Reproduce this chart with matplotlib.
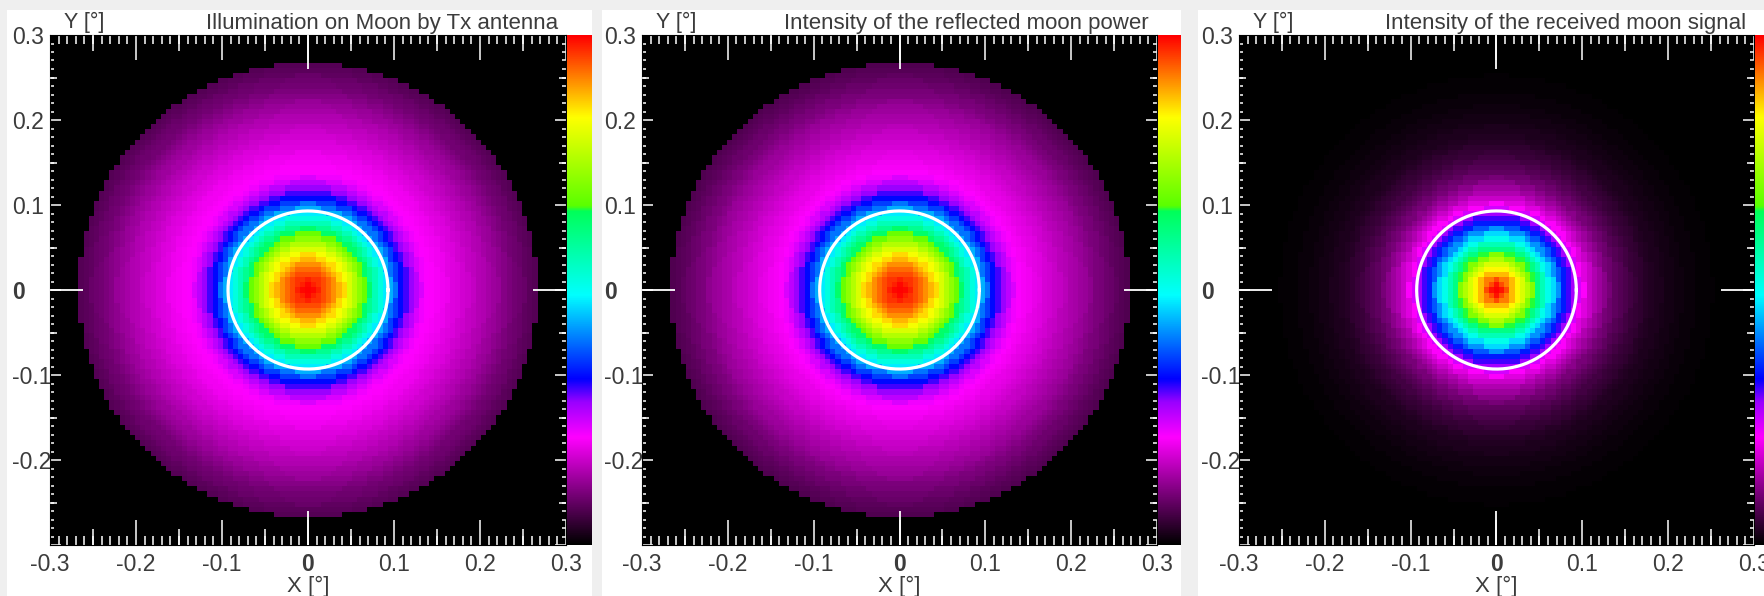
import numpy as np
import matplotlib
matplotlib.use("Agg")
import matplotlib.pyplot as plt
from matplotlib.colors import LinearSegmentedColormap
from matplotlib.patches import Rectangle

plt.rcParams['font.family'] = ['Liberation Sans', 'DejaVu Sans']
plt.rcParams['axes.unicode_minus'] = False

# radial intensity profiles (normalised), sampled every 0.005 deg from the beam centre
radius_deg = [0.000, 0.005, 0.010, 0.015, 0.020, 0.025, 0.030, 0.035, 0.040, 0.045,
              0.050, 0.055, 0.060, 0.065, 0.070, 0.075, 0.080, 0.085, 0.090, 0.095,
              0.100, 0.105, 0.110, 0.115, 0.120, 0.125, 0.130, 0.135, 0.140, 0.145,
              0.150, 0.155, 0.160, 0.165, 0.170, 0.175, 0.180, 0.185, 0.190, 0.195,
              0.200, 0.205, 0.210, 0.215, 0.220, 0.225, 0.230, 0.235, 0.240, 0.245,
              0.250, 0.255, 0.260, 0.265]
tx_illumination = [1.000, 0.995, 0.980, 0.965, 0.950, 0.930, 0.910, 0.885, 0.860, 0.830,
                   0.800, 0.760, 0.720, 0.680, 0.640, 0.600, 0.560, 0.520, 0.480, 0.440,
                   0.400, 0.365, 0.330, 0.305, 0.280, 0.255, 0.235, 0.222, 0.213, 0.208,
                   0.205, 0.200, 0.196, 0.191, 0.186, 0.181, 0.175, 0.169, 0.163, 0.157,
                   0.151, 0.145, 0.139, 0.132, 0.125, 0.118, 0.111, 0.104, 0.097, 0.091,
                   0.086, 0.081, 0.076, 0.072]
reflected_power = [1.000, 0.995, 0.980, 0.965, 0.950, 0.930, 0.910, 0.885, 0.860, 0.830,
                   0.800, 0.760, 0.720, 0.680, 0.640, 0.600, 0.560, 0.520, 0.480, 0.440,
                   0.400, 0.365, 0.330, 0.305, 0.280, 0.255, 0.235, 0.222, 0.212, 0.205,
                   0.200, 0.195, 0.190, 0.185, 0.179, 0.173, 0.167, 0.161, 0.155, 0.149,
                   0.143, 0.137, 0.131, 0.125, 0.118, 0.111, 0.104, 0.098, 0.092, 0.086,
                   0.081, 0.076, 0.071, 0.067]
received_signal = [1.000, 0.985, 0.950, 0.920, 0.880, 0.840, 0.800, 0.755, 0.710, 0.660,
                   0.610, 0.560, 0.510, 0.465, 0.420, 0.380, 0.340, 0.305, 0.270, 0.240,
                   0.210, 0.185, 0.165, 0.147, 0.130, 0.115, 0.100, 0.090, 0.080, 0.071,
                   0.063, 0.056, 0.050, 0.045, 0.040, 0.035, 0.031, 0.027, 0.024, 0.021,
                   0.018, 0.016, 0.014, 0.012, 0.011, 0.0095, 0.008, 0.007, 0.006, 0.005,
                   0.004, 0.0035, 0.003, 0.0025]

titles = ["Illumination on Moon by Tx antenna",
          "Intensity of the reflected moon power",
          "Intensity of the received moon signal"]
profiles = [tx_illumination, reflected_power, received_signal]

moon_radius = 0.267     # deg
beam_circle = 0.093     # deg, white ring
cell = 0.006            # deg, map resolution
ticks = [-0.3, -0.2, -0.1, 0.0, 0.1, 0.2, 0.3]
tick_labels = ["-0.3", "-0.2", "-0.1", "0", "0.1", "0.2", "0.3"]
ytick_labels = ["", "-0.2", "-0.1", "0", "0.1", "0.2", "0.3"]

# colour scale: black -> magenta -> blue -> cyan -> green -> yellow -> red
cmap = LinearSegmentedColormap.from_list("moon", [
    (0.00, (0, 0, 0)),
    (0.21, (1, 0, 1)),
    (0.28, (0.6, 0, 1)),
    (0.325, (0, 0, 1)),
    (0.49, (0, 1, 1)),
    (0.655, (0, 1, 0.35)),
    (0.665, (0.35, 1, 0)),
    (0.84, (1, 1, 0)),
    (0.92, (1, 0.5, 0)),
    (1.00, (1, 0, 0)),
])

W, H = 1765, 596
fig = plt.figure(figsize=(W / 100, H / 100), dpi=100, facecolor="#efefef")


def fx(px):
    return px / W


def fy(py):
    return 1 - py / H


# white cards behind each panel
for x0, x1 in [(7, 592), (602, 1181), (1198, 1765)]:
    fig.add_artist(Rectangle((fx(x0), 0), fx(x1 - x0), fy(10), transform=fig.transFigure,
                             facecolor="white", edgecolor="none", zorder=-10))

frames = [(50, 566), (642, 1157), (1239, 1754)]
bars = [(567, 592), (1158, 1181), (1755, 1780)]
top, bottom = 35, 545

# map of cell centres, each cell takes the nearest profile sample
k = np.arange(-50, 51)
gx, gy = np.meshgrid(k * cell, k * cell)
rr = np.hypot(gx, gy)
rad = np.array(radius_deg)
idx = np.abs(rr[..., None] - rad[None, None, :]).argmin(axis=-1)

txt = "#3c3c3c"
for (x0, x1), (b0, b1), title, prof in zip(frames, bars, titles, profiles):
    ax = fig.add_axes([fx(x0), fy(bottom), fx(x1 - x0), (bottom - top) / H])
    z = np.array(prof)[idx]
    z[rr > moon_radius] = 0.0
    half = 50.5 * cell
    ax.imshow(z, cmap=cmap, vmin=0, vmax=1, origin="lower", interpolation="nearest",
              extent=[-half, half, -half, half], aspect="auto")
    t = np.linspace(0, 2 * np.pi, 300)
    ax.plot(beam_circle * np.cos(t), beam_circle * np.sin(t), color="white", lw=2.3)
    ax.set_xlim(-0.3, 0.3)
    ax.set_ylim(-0.3, 0.3)
    ax.set_facecolor("black")
    for s in ax.spines.values():
        s.set_color("black")

    ax.set_xticks(ticks, tick_labels)
    ax.set_yticks(ticks, ytick_labels)
    ax.set_xticks(np.arange(-30, 31) / 100, minor=True)
    ax.set_yticks(np.arange(-30, 31) / 100, minor=True)
    ax.tick_params(axis="both", which="both", direction="in", colors="white",
                   top=True, right=True, labelcolor=txt, labelsize=16.5)
    ax.tick_params(axis="x", which="major", length=18, width=1.1, pad=6)
    ax.tick_params(axis="x", which="minor", length=6.5, width=1.1)
    ax.tick_params(axis="y", which="major", length=8, width=1.1, pad=27)
    ax.tick_params(axis="y", which="minor", length=3, width=1.1)
    for lab in ax.get_yticklabels():
        lab.set_horizontalalignment("left")
    for lab in ax.get_xticklabels() + ax.get_yticklabels():
        if lab.get_text() == "0":
            lab.set_fontweight("bold")

    # half-step and centre ticks
    mid = [-0.25, -0.15, -0.05, 0.05, 0.15, 0.25]
    xt = ax.get_xaxis_transform()
    yt = ax.get_yaxis_transform()
    fx_len = 16 / (bottom - top)
    fy_len = 7 / (x1 - x0)
    ax.vlines(mid, 0, fx_len, transform=xt, colors="white", lw=1.1, zorder=4)
    ax.vlines(mid, 1 - fx_len, 1, transform=xt, colors="white", lw=1.1, zorder=4)
    ax.hlines(mid, 0, fy_len, transform=yt, colors="white", lw=1.1, zorder=4)
    ax.hlines(mid, 1 - fy_len, 1, transform=yt, colors="white", lw=1.1, zorder=4)
    c_len = 34 / (bottom - top)
    ax.vlines([0], 0, c_len, transform=xt, colors="white", lw=1.3, zorder=4)
    ax.vlines([0], 1 - c_len, 1, transform=xt, colors="white", lw=1.3, zorder=4)
    cy_len = 33 / (x1 - x0)
    ax.hlines([0], 0, cy_len, transform=yt, colors="white", lw=1.3, zorder=4)
    ax.hlines([0], 1 - cy_len, 1, transform=yt, colors="white", lw=1.3, zorder=4)

    fig.text(fx((x0 + x1) / 2), fy(586), "X [°]", ha="center", va="center",
             fontsize=16, color=txt)
    fig.text(fx(x0 + 14), fy(22), "Y [°]", ha="left", va="center", fontsize=15.5, color=txt)
    fig.text(fx(x1 - 8), fy(23), title, ha="right", va="center", fontsize=16, color=txt)

    # colour bar strip
    cax = fig.add_axes([fx(b0), fy(bottom), fx(b1 - b0), (bottom - top) / H])
    grad = np.linspace(0, 1, 256)[:, None]
    cax.imshow(grad, cmap=cmap, origin="lower", aspect="auto", extent=[0, 1, 0, 1])
    cax.set_axis_off()

fig.savefig("out.png", dpi=100, facecolor=fig.get_facecolor())
